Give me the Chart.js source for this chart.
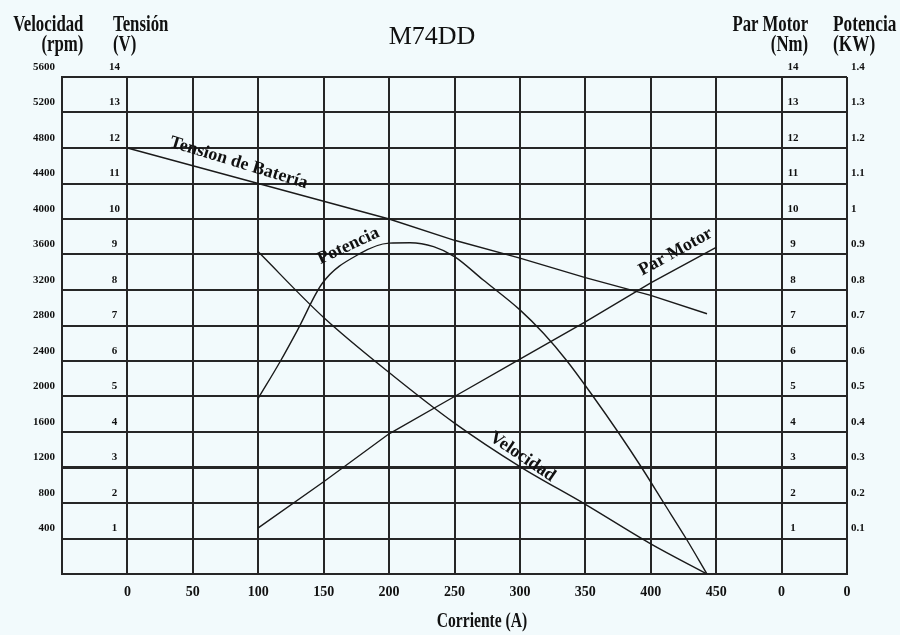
<!DOCTYPE html>
<html>
<head>
<meta charset="utf-8">
<script src="https://cdn.jsdelivr.net/npm/chart.js@4.4.1/dist/chart.umd.min.js"></script>
<style>
html,body{margin:0;padding:0;background:#f2fafc;}
#wrap{position:relative;width:900px;height:635px;overflow:hidden;background:#f2fafc;}
canvas{position:absolute;left:0;top:0;}
.hd{position:absolute;font-family:'Liberation Serif','Times New Roman',serif;font-weight:bold;font-size:24px;line-height:20px;color:#111;white-space:nowrap;}
</style>
</head>
<body>
<div id="wrap">
<canvas id="c" width="900" height="635"></canvas>
<div class="hd" style="right:817px;top:13px;text-align:right;transform:scaleX(0.7);transform-origin:right top;">Velocidad<br>(rpm)</div>
<div class="hd" style="left:113px;top:13px;text-align:left;transform:scaleX(0.7);transform-origin:left top;">Tensión<br>(V)</div>
<div class="hd" style="right:92px;top:13px;text-align:right;transform:scaleX(0.7);transform-origin:right top;">Par Motor<br>(Nm)</div>
<div class="hd" style="left:833px;top:13px;text-align:left;transform:scaleX(0.72);transform-origin:left top;">Potencia<br>(KW)</div>
<div class="hd" style="left:432px;top:23px;font-weight:normal;font-size:26px;line-height:26px;transform:translateX(-50%);">M74DD</div>
<div class="hd" style="left:482px;top:610px;font-size:20px;line-height:20px;transform:translateX(-50%) scaleX(0.78);">Corriente (A)</div>
</div>
<script>
// ---- data ----
const tensionCurrent = [0, 50, 100, 150, 200, 250, 300, 350, 400, 443];
const tensionVolts   = [12.0, 11.5, 11.0, 10.5, 10.0, 9.4, 8.9, 8.35, 7.85, 7.33];

const velocidadCurrent = [100, 150, 200, 250, 300, 350, 400, 443];
const velocidadRpm     = [3630, 2890, 2270, 1700, 1210, 785, 340, 0];

const parCurrent = [100, 150, 200, 250, 300, 350, 400, 450];
const parNm      = [1.3, 2.6, 3.95, 5.0, 6.05, 7.1, 8.2, 9.2];

const potenciaCurrent = [100, 117, 130, 149, 178, 200, 216, 234, 250, 272, 300, 318, 336, 356, 375, 393, 410, 427, 443];
const potenciaKW      = [0.495, 0.600, 0.687, 0.819, 0.903, 0.932, 0.933, 0.922, 0.894, 0.828, 0.744, 0.678, 0.60, 0.50, 0.40, 0.30, 0.20, 0.10, 0];

const curveNames = ['Tension de Batería', 'Potencia', 'Par Motor', 'Velocidad'];

const FONT = "'Liberation Serif','Times New Roman',serif";
const GRID = '#262626';
const LINE = '#1a1a1a';
const TXT = '#111';

const pts = (xs, ys) => xs.map((x, i) => ({x: x, y: ys[i]}));
const hideZero = v => (v === 0 ? '' : String(Math.round(v * 10) / 10));
const tickFont = {family: FONT, size: 11, weight: 'bold'};

const curveLabelPlugin = {
  id: 'curveLabels',
  afterDatasetsDraw(chart, args, opts) {
    const {ctx, scales} = chart;
    ctx.save();
    ctx.font = 'bold 18px ' + FONT;
    ctx.fillStyle = TXT;
    ctx.textAlign = 'center';
    ctx.textBaseline = 'middle';
    opts.items.forEach((it, i) => {
      const px = scales.x.getPixelForValue(it.at[0]);
      const py = scales.yTen.getPixelForValue(it.at[1]);
      ctx.save();
      ctx.translate(px, py);
      ctx.rotate(it.angle * Math.PI / 180);
      ctx.fillText(curveNames[i], 0, 0);
      ctx.restore();
    });
    ctx.restore();
  }
};

const lineStyle = {borderColor: LINE, borderWidth: 1.4, pointRadius: 0, fill: false};

new Chart(document.getElementById('c'), {
  type: 'line',
  data: {
    datasets: [
      Object.assign({label: 'Tension de Batería', data: pts(tensionCurrent, tensionVolts), yAxisID: 'yTen', tension: 0}, lineStyle),
      Object.assign({label: 'Velocidad', data: pts(velocidadCurrent, velocidadRpm), yAxisID: 'yVel', cubicInterpolationMode: 'monotone'}, lineStyle),
      Object.assign({label: 'Par Motor', data: pts(parCurrent, parNm), yAxisID: 'yPar', tension: 0}, lineStyle),
      Object.assign({label: 'Potencia', data: pts(potenciaCurrent, potenciaKW), yAxisID: 'yPot', cubicInterpolationMode: 'monotone'}, lineStyle)
    ]
  },
  options: {
    responsive: false,
    animation: false,
    devicePixelRatio: 1,
    layout: {padding: {top: 77, left: 0, right: 0, bottom: 0}},
    plugins: {
      legend: {display: false},
      title: {display: false},
      tooltip: {enabled: false},
      curveLabels: {
        items: [
          {at: [85, 11.58], angle: 17},
          {at: [169, 9.24], angle: -25},
          {at: [419, 9.07], angle: -29},
          {at: [302, 3.30], angle: 34}
        ]
      }
    },
    scales: {
      x: {
        type: 'linear', position: 'bottom', min: -50, max: 550,
        ticks: {
          stepSize: 50, autoSkip: false, maxRotation: 0, padding: 10, color: TXT,
          font: {family: FONT, size: 14, weight: 'bold'},
          callback: v => (v < 0 ? '' : (v <= 450 ? String(v) : '0'))
        },
        grid: {color: GRID, lineWidth: 2, drawTicks: false},
        border: {display: true, color: GRID, width: 2},
        afterFit: s => { s.height = 61; }
      },
      yVel: {
        position: 'left', weight: 10, min: 0, max: 5600,
        ticks: {stepSize: 400, padding: 7, labelOffset: -10, color: TXT, font: tickFont, callback: hideZero},
        grid: {color: GRID, lineWidth: c => (c.tick && c.tick.value === 1200 ? 3 : 2), drawTicks: false},
        border: {display: true, color: GRID, width: 2},
        afterFit: s => { s.width = 62; }
      },
      yTen: {
        position: 'left', weight: 0, min: 0, max: 14,
        ticks: {stepSize: 1, mirror: true, crossAlign: 'center', padding: 47, labelOffset: -10, color: TXT, font: tickFont, callback: hideZero},
        grid: {display: false, drawTicks: false},
        border: {display: false},
        afterFit: s => { s.width = 0; }
      },
      yPar: {
        position: 'right', weight: 0, min: 0, max: 14,
        ticks: {stepSize: 1, mirror: true, crossAlign: 'center', padding: -48.5, labelOffset: -10, color: TXT, font: tickFont, callback: hideZero},
        grid: {display: false, drawTicks: false},
        border: {display: false},
        afterFit: s => { s.width = 0; }
      },
      yPot: {
        position: 'right', weight: 10, min: 0, max: 1.4,
        ticks: {stepSize: 0.1, padding: 4, labelOffset: -10, color: TXT, font: tickFont, callback: hideZero},
        grid: {display: false, drawTicks: false},
        border: {display: false},
        afterFit: s => { s.width = 53; }
      }
    }
  },
  plugins: [curveLabelPlugin]
});
</script>
</body>
</html>
